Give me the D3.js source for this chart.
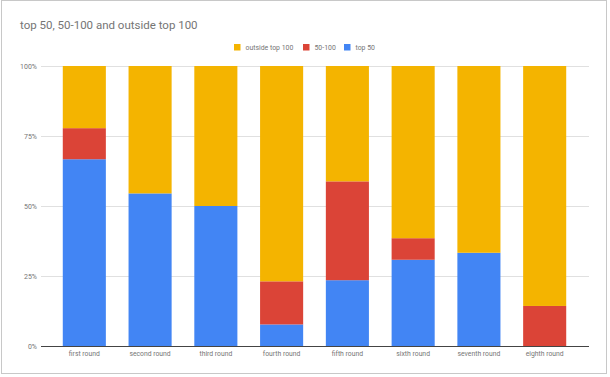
<!DOCTYPE html>
<html>
<head>
<meta charset="utf-8">
<script src="https://cdn.jsdelivr.net/npm/d3@7"></script>
<style>
  html, body { margin: 0; padding: 0; background: #fff; }
  #frame {
    position: absolute; left: 1px; top: 0; width: 606px; height: 374px;
    border: 1px solid #c8c8c8; box-sizing: border-box;
  }
  svg { position: absolute; left: 0; top: 0; font-family: Roboto, Arial, sans-serif; }
</style>
</head>
<body>
<div id="frame"></div>
<div id="chart"></div>
<script>
const rounds = ["first round", "second round", "third round", "fourth round",
  "fifth round", "sixth round", "seventh round", "eighth round"];
const top50 = [66.7, 54.5, 50.0, 7.7, 23.5, 30.8, 33.3, 0];
const mid50to100 = [11.1, 0, 0, 15.4, 35.3, 7.7, 0, 14.3];
const outside100 = [22.2, 45.5, 50.0, 76.9, 41.2, 61.5, 66.7, 85.7];
const yTicks = [0, 25, 50, 75, 100];

const seriesNames = ["top 50", "50-100", "outside top 100"];
const colors = { "top 50": "#4285f4", "50-100": "#db4437", "outside top 100": "#f4b400" };

const W = 610, H = 377;
const plot = { left: 41, right: 589, top: 66, bottom: 346 };

const svg = d3.select("#chart").append("svg")
  .attr("width", W)
  .attr("height", H);

// table for the stack
const rows = rounds.map((r, i) => ({
  round: r,
  "top 50": top50[i],
  "50-100": mid50to100[i],
  "outside top 100": outside100[i]
}));
const stacked = d3.stack().keys(seriesNames)
  .offset(d3.stackOffsetExpand)(rows);

const x = d3.scaleBand()
  .domain(rounds)
  .range([51.6, 577.4])
  .paddingInner(0.345)
  .paddingOuter(0.17);

const y = d3.scaleLinear()
  .domain([0, 1])
  .range([plot.bottom, plot.top]);

// title
svg.append("text")
  .attr("x", 20)
  .attr("y", 28.5)
  .style("font-size", "11.5px")
  .style("fill", "#757575")
  .text("top 50, 50-100 and outside top 100");

// grid
svg.append("g")
  .selectAll("line")
  .data(yTicks.filter(d => d > 0))
  .enter().append("line")
  .attr("x1", plot.left)
  .attr("x2", plot.right)
  .attr("y1", d => Math.round(y(d / 100)) + 0.5)
  .attr("y2", d => Math.round(y(d / 100)) + 0.5)
  .attr("stroke", "#e0e0e0")
  .attr("stroke-width", 1);

// y labels
svg.append("g")
  .selectAll("text")
  .data(yTicks)
  .enter().append("text")
  .attr("x", 37)
  .attr("y", d => y(d / 100) + 2.5)
  .attr("text-anchor", "end")
  .style("font-size", "7px")
  .style("fill", "#757575")
  .text(d => d + "%");

// bars
svg.append("g")
  .selectAll("g")
  .data(stacked)
  .enter().append("g")
  .attr("fill", d => colors[d.key])
  .selectAll("rect")
  .data(d => d)
  .enter().append("rect")
  .attr("x", d => x(d.data.round))
  .attr("width", x.bandwidth())
  .attr("y", d => y(d[1]))
  .attr("height", d => y(d[0]) - y(d[1]));

// baseline
svg.append("line")
  .attr("x1", plot.left)
  .attr("x2", plot.right)
  .attr("y1", plot.bottom + 0.5)
  .attr("y2", plot.bottom + 0.5)
  .attr("stroke", "#444")
  .attr("stroke-width", 1);

// x labels
svg.append("g")
  .selectAll("text")
  .data(rounds)
  .enter().append("text")
  .attr("x", d => x(d) + x.bandwidth() / 2)
  .attr("y", 356)
  .attr("text-anchor", "middle")
  .style("font-size", "6.8px")
  .style("fill", "#757575")
  .text(d => d);

// legend
const legendItems = [
  { name: "outside top 100", x: 234 },
  { name: "50-100", x: 303 },
  { name: "top 50", x: 344 }
];
const lg = svg.append("g")
  .selectAll("g")
  .data(legendItems)
  .enter().append("g")
  .attr("transform", d => `translate(${d.x},44)`);
lg.append("rect")
  .attr("width", 6.5)
  .attr("height", 6.5)
  .attr("fill", d => colors[d.name]);
lg.append("text")
  .attr("x", 11.5)
  .attr("y", 5.8)
  .style("font-size", "6.9px")
  .style("fill", "#757575")
  .text(d => d.name);
</script>
</body>
</html>
